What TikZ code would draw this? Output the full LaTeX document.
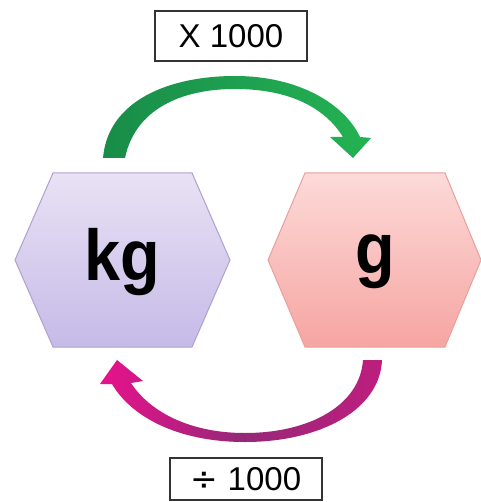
\documentclass[tikz,border=0pt]{standalone}
\usepackage{fontspec}
\setmainfont{Liberation Sans}
\newfontfamily\symfont{DejaVu Sans}
\definecolor{grA}{RGB}{24,140,72}
\definecolor{grB}{RGB}{30,160,80}
\definecolor{grC}{RGB}{36,178,82}
\definecolor{mgA}{RGB}{232,18,140}
\definecolor{mgB}{RGB}{150,40,120}
\definecolor{mgC}{RGB}{190,30,125}
\definecolor{kgTop}{RGB}{232,226,244}
\definecolor{kgBot}{RGB}{198,186,232}
\definecolor{kgLine}{RGB}{175,160,205}
\definecolor{gTop}{RGB}{252,218,216}
\definecolor{gBot}{RGB}{246,165,162}
\definecolor{gLine}{RGB}{232,160,156}
\begin{document}
\begin{tikzpicture}[x=1pt,y=-1pt,
  labelbox/.style={draw=black!80,line width=1.4pt,fill=white,inner sep=0pt,minimum width=152pt,minimum height=50pt,font=\fontsize{33}{33}\selectfont},
  unit/.style={font=\fontsize{72}{72}\selectfont\bfseries,text=black}]
\useasboundingbox (0,0) rectangle (480,502);
\fill[white] (0,0) rectangle (480,502);
% hexagons
\path[draw=kgLine,line width=1pt,top color=kgTop,bottom color=kgBot]
  (15,260) -- (53,173) -- (192,173) -- (230,260) -- (192,347) -- (53,347) -- cycle;
\path[draw=gLine,line width=1pt,top color=gTop,bottom color=gBot]
  (268,260) -- (305,173) -- (445,173) -- (481,260) -- (445,347) -- (305,347) -- cycle;
\node[unit] (kg) at (122,262) {\scalebox{0.9}[1]{kg}};
\node[unit] (g) at (375,262) {\scalebox{0.9}[1]{g}};
% green arrow
\shade[left color=grA,right color=grC,middle color=grB]
  (103,158) .. controls (108,100) and (170,76) .. (235,76)
  .. controls (300,76) and (345,105) .. (360,137) -- (371,138) -- (353,158) -- (330,137) -- (343,137)
  .. controls (325,108) and (290,89) .. (235,89)
  .. controls (180,89) and (135,110) .. (125,158) -- cycle;
% magenta arrow
\shade[left color=mgA,right color=mgC,middle color=mgB]
  (382,360) .. controls (380,410) and (320,442) .. (245,442)
  .. controls (175,442) and (130,415) .. (112,384) -- (100,384) -- (117,360) -- (143,381) -- (131,383)
  .. controls (150,412) and (190,433) .. (245,433)
  .. controls (310,433) and (360,405) .. (363,360) -- cycle;
% labels
\node[labelbox] (times) at (231,36) {X 1000};
\node[labelbox,minimum height=42pt] (div) at (246,479) {{\symfont ÷} 1000};
\end{tikzpicture}
\end{document}
